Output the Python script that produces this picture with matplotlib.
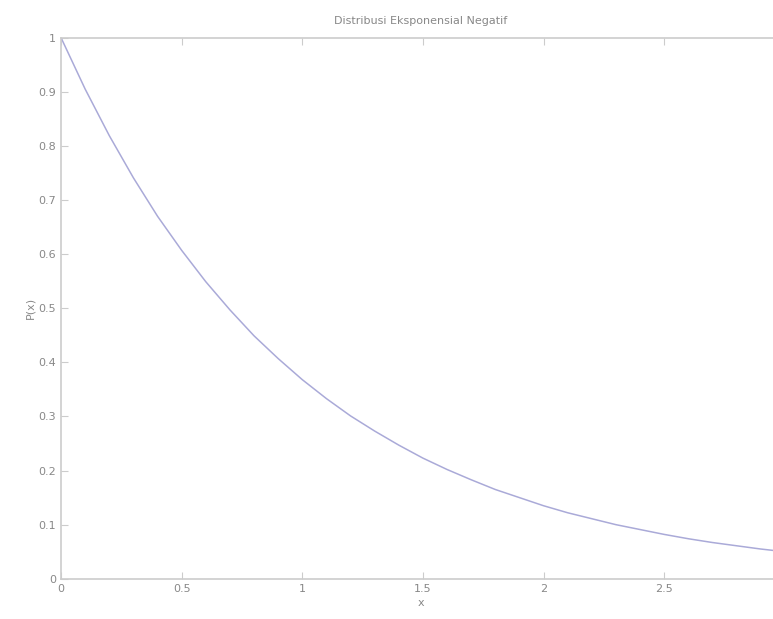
import matplotlib.pyplot as plt

# values
x_vals = [0.0, 0.1, 0.2, 0.3, 0.4, 0.5, 0.6, 0.7, 0.8, 0.9, 1.0,
          1.1, 1.2, 1.3, 1.4, 1.5, 1.6, 1.7, 1.8, 1.9, 2.0,
          2.1, 2.2, 2.3, 2.4, 2.5, 2.6, 2.7, 2.8, 2.9, 3.0]
p_vals = [1.000, 0.905, 0.819, 0.741, 0.670, 0.607, 0.549, 0.497, 0.449, 0.407, 0.368,
          0.333, 0.301, 0.273, 0.247, 0.223, 0.202, 0.183, 0.165, 0.150, 0.135,
          0.122, 0.111, 0.100, 0.091, 0.082, 0.074, 0.067, 0.061, 0.055, 0.050]
x_ticks = [0, 0.5, 1, 1.5, 2, 2.5]
x_labels = ['0', '0.5', '1', '1.5', '2', '2.5']
y_ticks = [0, 0.1, 0.2, 0.3, 0.4, 0.5, 0.6, 0.7, 0.8, 0.9, 1]
y_labels = ['0', '0.1', '0.2', '0.3', '0.4', '0.5', '0.6', '0.7', '0.8', '0.9', '1']

fig = plt.figure(figsize=(7.73, 6.19), dpi=100)
ax = fig.add_axes([0.079, 0.065, 0.93, 0.874])

ax.plot(x_vals, p_vals, color='#aaaad8', linewidth=1.1)

ax.set_xlim(0, 2.98)
ax.set_ylim(0, 1)
ax.set_xticks(x_ticks)
ax.set_xticklabels(x_labels)
ax.set_yticks(y_ticks)
ax.set_yticklabels(y_labels)

grey = '#cccccc'
for s in ax.spines.values():
    s.set_color(grey)
    s.set_linewidth(1.2)
ax.tick_params(direction='in', length=5, color=grey, labelcolor='#888888',
               labelsize=8, top=True, right=True)

ax.set_title('Distribusi Eksponensial Negatif', fontsize=8, color='#888888', pad=10)
ax.set_xlabel('x', fontsize=8, color='#888888', labelpad=3)
ax.set_ylabel('P(x)', fontsize=8, color='#888888', labelpad=2)

fig.savefig('out.png', dpi=100)
